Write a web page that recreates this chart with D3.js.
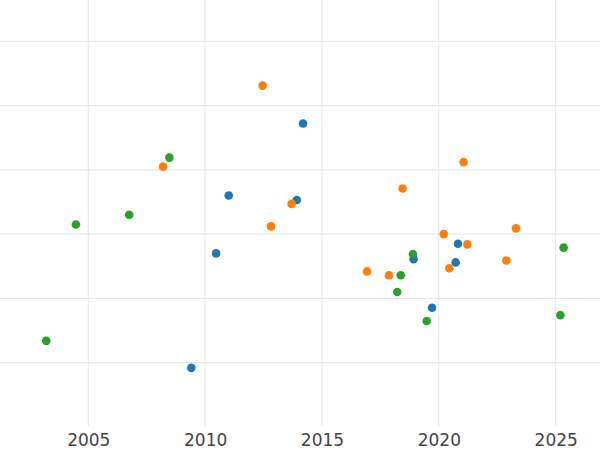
<!DOCTYPE html>
<html>
<head>
<meta charset="utf-8">
<script src="https://cdn.jsdelivr.net/npm/d3@7"></script>
<style>
  html, body { margin: 0; padding: 0; background: #fff; }
  svg { display: block; }
</style>
</head>
<body>
<svg id="chart" width="600" height="450"></svg>
<script>
// ---- data ----
const seriesNames = ["A", "B", "C"];
const seriesColors = ["#1f77b4", "#ff7f0e", "#2ca02c"];

const blueYears  = [2014.19, 2011.01, 2013.92, 2010.47, 2020.82, 2018.92, 2020.72, 2019.71, 2009.41];
const blueValues = [3.72, 2.60, 2.53, 1.70, 1.85, 1.61, 1.56, 0.855, -0.08];

const orangeYears  = [2012.46, 2008.20, 2021.06, 2018.45, 2013.70, 2012.82, 2023.30, 2020.21, 2021.22, 2022.89, 2020.45, 2016.93, 2017.87];
const orangeValues = [4.31, 3.05, 3.12, 2.71, 2.47, 2.12, 2.09, 2.00, 1.84, 1.59, 1.47, 1.42, 1.36];

const greenYears  = [2008.47, 2006.75, 2004.47, 2018.89, 2018.37, 2018.22, 2019.48, 2025.34, 2025.20, 2003.20];
const greenValues = [3.19, 2.30, 2.15, 1.69, 1.36, 1.10, 0.65, 1.79, 0.74, 0.34];

const xTicks = [2005, 2010, 2015, 2020, 2025];
const yTicks = [0, 1, 2, 3, 4, 5];

const xDomain = [2001.222, 2026.896];
const yDomain = [-0.984, 5.641];

// ---- build ----
const svg = d3.select("#chart");
const W = 600, plotBottom = 426;

const x = d3.scaleLinear().domain(xDomain).range([0, W]);
const y = d3.scaleLinear().domain(yDomain).range([plotBottom, 0]);

const grid = svg.append("g");
grid.selectAll("line.h").data(yTicks).join("line")
  .attr("x1", 0).attr("x2", W)
  .attr("y1", d => y(d)).attr("y2", d => y(d))
  .attr("stroke", "#e6e6e6").attr("stroke-width", 1);
grid.selectAll("line.v").data(xTicks).join("line")
  .attr("y1", 0).attr("y2", plotBottom)
  .attr("x1", d => x(d)).attr("x2", d => x(d))
  .attr("stroke", "#e6e6e6").attr("stroke-width", 1);

const xAxis = d3.axisBottom(x).tickValues(xTicks).tickFormat(d3.format("d")).tickSize(0).tickPadding(0);
const ax = svg.append("g").attr("transform", `translate(0,${plotBottom})`).call(xAxis);
ax.select(".domain").remove();
ax.selectAll("text")
  .attr("dy", null).attr("y", 20)
  .attr("fill", "#444")
  .style("font-family", "DejaVu Sans, sans-serif")
  .style("font-size", "17px");

const series = [
  { years: blueYears, values: blueValues },
  { years: orangeYears, values: orangeValues },
  { years: greenYears, values: greenValues }
];

series.forEach((s, i) => {
  const pts = s.years.map((yr, j) => ({ yr, v: s.values[j] }));
  svg.append("g").selectAll("circle").data(pts).join("circle")
    .attr("cx", d => x(d.yr))
    .attr("cy", d => y(d.v))
    .attr("r", 4.3)
    .attr("fill", seriesColors[i]);
});
</script>
</body>
</html>
